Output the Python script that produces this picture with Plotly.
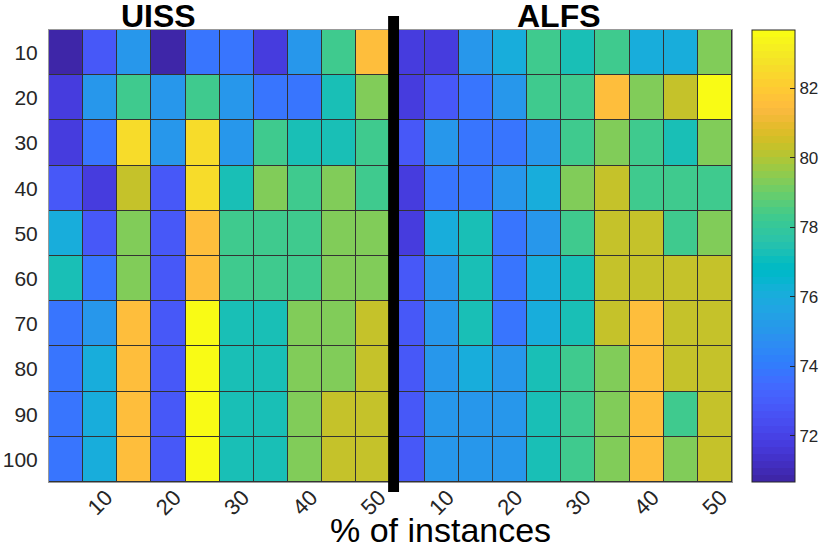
import plotly.graph_objects as go

# ---- data ----
rows = [10, 20, 30, 40, 50, 60, 70, 80, 90, 100]
col_labels = ["10", "20", "30", "40", "50"]

uiss = [
    [70.7, 72.8, 75.0, 70.7, 73.8, 73.8, 71.8, 75.0, 78.3, 81.5],
    [71.8, 75.0, 78.3, 75.0, 78.3, 75.0, 73.8, 73.8, 77.3, 79.3],
    [71.8, 73.8, 82.5, 75.0, 82.5, 75.0, 78.3, 77.3, 77.3, 78.3],
    [72.8, 71.8, 80.3, 72.8, 82.5, 77.3, 79.3, 78.3, 79.3, 78.3],
    [76.0, 72.8, 79.3, 72.8, 81.5, 78.3, 78.3, 78.3, 79.3, 79.3],
    [77.3, 73.8, 79.3, 72.8, 81.5, 78.3, 78.3, 78.3, 79.3, 79.3],
    [73.8, 75.0, 81.5, 72.8, 83.6, 77.3, 77.3, 79.3, 79.3, 80.3],
    [73.8, 76.0, 81.5, 72.8, 83.6, 77.3, 77.3, 79.3, 79.3, 80.3],
    [73.8, 76.0, 81.5, 72.8, 83.6, 77.3, 77.3, 79.3, 80.3, 80.3],
    [73.8, 76.0, 81.5, 72.8, 83.6, 77.3, 77.3, 79.3, 80.3, 80.3],
]

alfs = [
    [71.8, 71.8, 75.0, 76.0, 78.3, 77.3, 78.3, 76.0, 76.0, 79.3],
    [71.8, 72.8, 73.8, 75.0, 78.3, 78.3, 81.5, 79.3, 80.3, 83.6],
    [72.8, 75.0, 73.8, 73.8, 75.0, 78.3, 79.3, 78.3, 77.3, 79.3],
    [71.8, 73.8, 73.8, 75.0, 76.0, 79.3, 80.3, 78.3, 78.3, 78.3],
    [71.8, 76.0, 77.3, 73.8, 75.0, 78.3, 80.3, 80.3, 78.3, 79.3],
    [72.8, 75.0, 77.3, 73.8, 76.0, 77.3, 80.3, 80.3, 80.3, 80.3],
    [72.8, 75.0, 77.3, 73.8, 76.0, 77.3, 80.3, 81.5, 80.3, 80.3],
    [72.8, 75.0, 76.0, 75.0, 77.3, 78.3, 79.3, 81.5, 80.3, 80.3],
    [72.8, 75.0, 75.0, 75.0, 77.3, 78.3, 79.3, 81.5, 78.3, 80.3],
    [72.8, 75.0, 75.0, 75.0, 77.3, 78.3, 79.3, 81.5, 79.3, 80.3],
]

cbar_ticks = [72, 74, 76, 78, 80, 82]
zmin, zmax = 70.67, 83.68

# ---- parula colormap (MATLAB R2014b) ----
parula = [
    (0.2422, 0.1504, 0.6603), (0.2504, 0.1650, 0.7076), (0.2578, 0.1818, 0.7511), (0.2647, 0.1978, 0.7952),
    (0.2706, 0.2147, 0.8364), (0.2751, 0.2342, 0.8710), (0.2783, 0.2559, 0.8991), (0.2803, 0.2782, 0.9221),
    (0.2813, 0.3006, 0.9414), (0.2810, 0.3228, 0.9579), (0.2795, 0.3447, 0.9717), (0.2760, 0.3667, 0.9829),
    (0.2699, 0.3892, 0.9906), (0.2602, 0.4123, 0.9952), (0.2440, 0.4358, 0.9988), (0.2206, 0.4603, 0.9973),
    (0.1963, 0.4847, 0.9892), (0.1834, 0.5074, 0.9798), (0.1786, 0.5289, 0.9682), (0.1764, 0.5499, 0.9520),
    (0.1687, 0.5703, 0.9359), (0.1540, 0.5902, 0.9218), (0.1460, 0.6091, 0.9079), (0.1380, 0.6276, 0.8973),
    (0.1248, 0.6459, 0.8883), (0.1113, 0.6635, 0.8763), (0.0952, 0.6798, 0.8598), (0.0689, 0.6948, 0.8394),
    (0.0297, 0.7082, 0.8163), (0.0036, 0.7203, 0.7917), (0.0067, 0.7312, 0.7660), (0.0433, 0.7411, 0.7394),
    (0.0964, 0.7500, 0.7120), (0.1408, 0.7584, 0.6842), (0.1717, 0.7670, 0.6554), (0.1938, 0.7758, 0.6251),
    (0.2161, 0.7843, 0.5923), (0.2470, 0.7918, 0.5567), (0.2906, 0.7973, 0.5188), (0.3406, 0.8008, 0.4789),
    (0.3909, 0.8029, 0.4354), (0.4456, 0.8024, 0.3909), (0.5044, 0.7993, 0.3480), (0.5616, 0.7942, 0.3045),
    (0.6174, 0.7876, 0.2612), (0.6720, 0.7793, 0.2227), (0.7242, 0.7698, 0.1910), (0.7738, 0.7598, 0.1646),
    (0.8203, 0.7498, 0.1535), (0.8634, 0.7406, 0.1596), (0.9035, 0.7330, 0.1774), (0.9393, 0.7288, 0.2100),
    (0.9728, 0.7298, 0.2394), (0.9956, 0.7434, 0.2371), (0.9970, 0.7659, 0.2199), (0.9952, 0.7893, 0.2028),
    (0.9892, 0.8136, 0.1885), (0.9786, 0.8386, 0.1766), (0.9676, 0.8639, 0.1643), (0.9610, 0.8890, 0.1537),
    (0.9597, 0.9135, 0.1423), (0.9628, 0.9373, 0.1265), (0.9691, 0.9606, 0.1064), (0.9769, 0.9839, 0.0805),
]
n = len(parula)
colorscale = []
for i, (r, g, b) in enumerate(parula):
    c = "rgb(%d,%d,%d)" % (round(r * 255), round(g * 255), round(b * 255))
    colorscale.append([i / n, c])
    colorscale.append([(i + 1) / n, c])

z = [u + a for u, a in zip(uiss, alfs)]
xs = list(range(1, 21))

FONT = "Liberation Sans, Arial, Helvetica, sans-serif"

fig = go.Figure()
fig.add_trace(go.Heatmap(
    z=z, x=xs, y=rows,
    zmin=zmin, zmax=zmax,
    colorscale=colorscale,
    xgap=1, ygap=1,
    colorbar=dict(
        x=(752 - 49) / 683, xanchor="left", xpad=0, ypad=0,
        y=0.5, yanchor="middle", len=1, lenmode="fraction",
        thickness=43, outlinewidth=1, outlinecolor="#262626",
        tickvals=cbar_ticks, ticks="inside", ticklen=5, tickcolor="#262626",
        tickfont=dict(family=FONT, size=17, color="#262626"),
    ),
))

fig.add_shape(type="rect", xref="x", yref="paper",
              x0=10.43, x1=10.75, y0=-0.022, y1=1.031,
              fillcolor="black", line=dict(width=0), layer="above")

fig.add_annotation(text="<b>UISS</b>", x=(158 - 49) / 683, y=(482 - 16) / 452,
                   xref="paper", yref="paper", showarrow=False, borderpad=0,
                   xanchor="center", yanchor="middle",
                   font=dict(family=FONT, size=32, color="black"))
fig.add_annotation(text="<b>ALFS</b>", x=(559 - 49) / 683, y=(482 - 16) / 452,
                   xref="paper", yref="paper", showarrow=False, borderpad=0,
                   xanchor="center", yanchor="middle",
                   font=dict(family=FONT, size=32, color="black"))
fig.add_annotation(text="% of instances", x=(440 - 49) / 683, y=(482 - 530) / 452,
                   xref="paper", yref="paper", showarrow=False,
                   xanchor="center", yanchor="middle",
                   font=dict(family=FONT, size=34, color="black"))

fig.update_layout(
    width=830, height=549,
    margin=dict(l=49, r=98, t=30, b=67, autoexpand=False),
    paper_bgcolor="white", plot_bgcolor="#333333",
    xaxis=dict(range=[0.5, 20.5], tickvals=[2, 4, 6, 8, 10, 12, 14, 16, 18, 20],
               ticktext=col_labels + col_labels, tickangle=-45, automargin=False,
               tickfont=dict(family=FONT, size=22, color="#262626"),
               ticklabelstandoff=-7, ticklabelshift=6,
               showgrid=False, zeroline=False, showline=True, linecolor="#999999",
               mirror=True, ticks=""),
    yaxis=dict(range=[105, 5], tickvals=rows, automargin=False,
               tickfont=dict(family=FONT, size=21, color="#262626"),
               showgrid=False, zeroline=False, showline=True, linecolor="#999999",
               mirror=True, ticks="", ticklabelstandoff=6),
)

fig.write_html("out.html", config={"displayModeBar": False},
               post_script="document.body.style.margin='0';document.body.style.overflow='hidden';")
